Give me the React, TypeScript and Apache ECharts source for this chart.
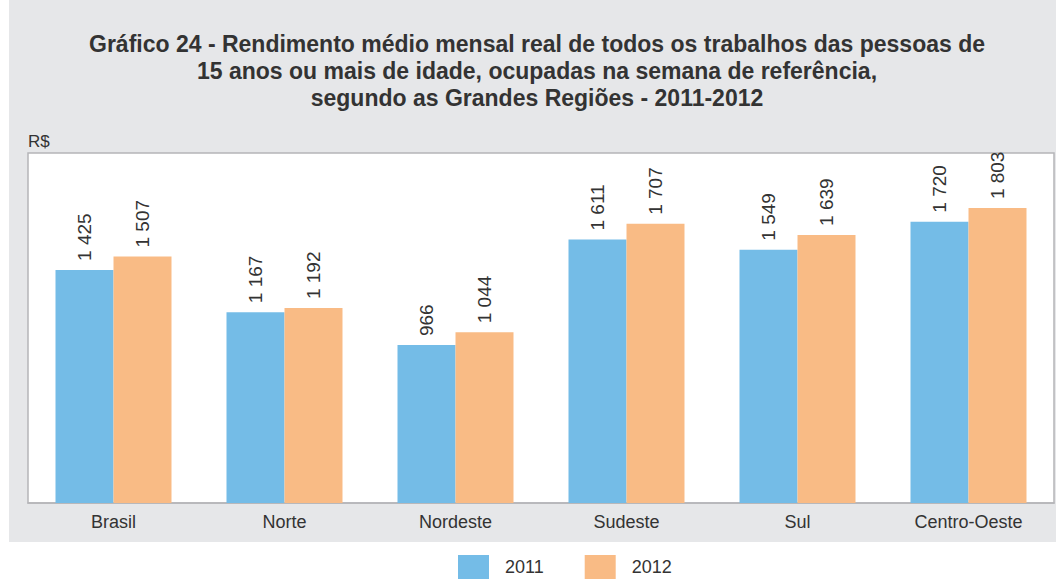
import React, { useEffect, useRef } from "react";
import * as echarts from "echarts";

const categories = ["Brasil", "Norte", "Nordeste", "Sudeste", "Sul", "Centro-Oeste"];
const values2011 = [1425, 1167, 966, 1611, 1549, 1720];
const values2012 = [1507, 1192, 1044, 1707, 1639, 1803];
const seriesNames = ["2011", "2012"];
const titleLines = [
  "Gráfico 24 - Rendimento médio mensal real de todos os trabalhos das pessoas de",
  "15 anos ou mais de idade, ocupadas na semana de referência,",
  "segundo as Grandes Regiões - 2011-2012",
];
const unitLabel = "R$";

const fmt = (v: number) => {
  const s = String(v);
  return s.length > 3 ? s.slice(0, s.length - 3) + " " + s.slice(-3) : s;
};

export default function App() {
  const ref = useRef<HTMLDivElement>(null);
  useEffect(() => {
    if (!ref.current) return;
    const chart = echarts.init(ref.current, undefined, { renderer: "svg" });
    const font = "'Liberation Sans', Arial, Helvetica, sans-serif";
    const label = {
      show: true,
      position: "top",
      rotate: 90,
      align: "left",
      verticalAlign: "middle",
      distance: 9,
      fontSize: 19,
      fontFamily: font,
      color: "#333",
      formatter: (p: any) => fmt(p.value),
    };
    chart.setOption({
      animation: false,
      textStyle: { fontFamily: font },
      graphic: [
        { type: "rect", z: -10, shape: { x: 9, y: 0, width: 1047, height: 542 }, style: { fill: "#e6e7e9" }, silent: true },
        ...titleLines.map((t, i) => ({
          type: "text",
          x: 537,
          y: 44 + i * 27,
          style: { text: t, fill: "#333", font: `bold 23px ${font}`, textAlign: "center", textVerticalAlign: "middle" },
        })),
        {
          type: "text",
          x: 28,
          y: 141,
          style: { text: unitLabel, fill: "#333", font: `17px ${font}`, textAlign: "left", textVerticalAlign: "middle" },
        },
      ],
      legend: {
        data: seriesNames,
        left: 458,
        top: 555,
        padding: 0,
        itemWidth: 31,
        itemHeight: 24,
        itemGap: 41,
        icon: "rect",
        textStyle: { fontSize: 18, color: "#333", fontFamily: font, padding: [2, 0, 0, 11] },
      },
      grid: {
        left: 28,
        top: 153,
        right: 2,
        bottom: 78,
        show: true,
        backgroundColor: "#fff",
        borderColor: "#b5b5b8",
        borderWidth: 1.5,
      },
      xAxis: {
        type: "category",
        data: categories,
        axisLine: { show: true, lineStyle: { color: "#b5b5b8", width: 1.5 } },
        axisTick: { show: false },
        axisLabel: { fontSize: 18, color: "#333", margin: 10, fontFamily: font },
      },
      yAxis: {
        type: "value",
        min: 0,
        max: 2140,
        show: false,
        splitLine: { show: false },
      },
      series: [
        {
          name: seriesNames[0],
          type: "bar",
          data: values2011,
          barWidth: 58,
          barGap: "0%",
          itemStyle: { color: "#74bce7" },
          label,
        },
        {
          name: seriesNames[1],
          type: "bar",
          data: values2012,
          barWidth: 58,
          barGap: "0%",
          itemStyle: { color: "#f9bb85" },
          label,
        },
      ],
    });
    return () => chart.dispose();
  }, []);
  return <div ref={ref} style={{ position: "absolute", left: 0, top: 0, width: 1056, height: 581 }} />;
}
